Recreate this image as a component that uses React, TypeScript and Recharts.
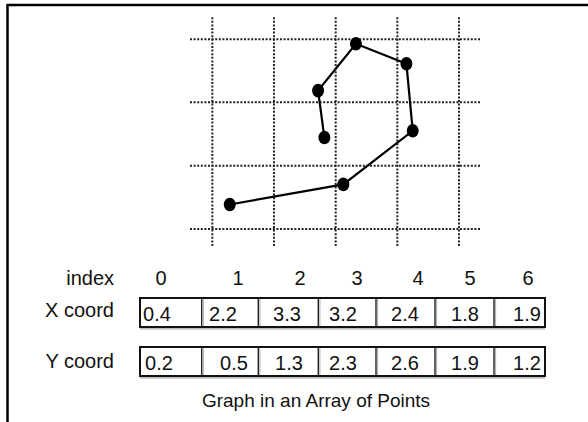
import React from "react";
import { ScatterChart, Scatter, XAxis, YAxis, ReferenceLine } from "recharts";

// point list, in array order (index 0..6)
const indices = [0, 1, 2, 3, 4, 5, 6];
const xCoords = [0.4, 2.2, 3.3, 3.2, 2.4, 1.8, 1.9];
const yCoords = [0.2, 0.5, 1.3, 2.3, 2.6, 1.9, 1.2];

// dotted background grid, in data units
const gridX = [0.124, 1.101, 2.079, 3.056, 4.033];
const gridY = [-0.166, 0.779, 1.725, 2.666];

const caption = "Graph in an Array of Points";

const points = indices.map((i) => ({ index: i, x: xCoords[i], y: yCoords[i] }));

// table layout
const cellEdges = [140, 201.7, 258.3, 318.3, 376, 435, 494, 545];
const indexTextX = [161, 238, 300, 357, 418, 470, 528];
const xRowTextX = [157, 223, 287, 343, 405, 465, 527];
const yRowTextX = [159, 234, 289, 343, 405, 465, 527];

const FONT = '"Liberation Sans", Arial, sans-serif';
const FS = 20;

const Dot = (props: any) => {
  const { cx, cy } = props;
  if (cx == null || cy == null) return null;
  return <ellipse cx={cx} cy={cy} rx={6} ry={6.8} fill="#000" />;
};

function TableRow({ top, bottom, values, textX, baseline }: {
  top: number;
  bottom: number;
  values: number[];
  textX: number[];
  baseline: number;
}) {
  const left = cellEdges[0];
  const right = cellEdges[cellEdges.length - 1];
  return (
    <g>
      <line x1={left} x2={right} y1={bottom + 1.8} y2={bottom + 1.8} stroke="#aaa" strokeWidth={1.2} />
      <rect x={left} y={top} width={right - left} height={bottom - top} fill="#fff" stroke="#111" strokeWidth={2} />
      {cellEdges.slice(1, -1).map((e, i) => (
        <g key={i}>
          <line x1={e} x2={e} y1={top} y2={bottom} stroke="#222" strokeWidth={1.4} />
          <line x1={e + 1.6} x2={e + 1.6} y1={top + 1} y2={bottom - 1} stroke="#aaa" strokeWidth={1} />
        </g>
      ))}
      {values.map((v, i) => (
        <text key={i} x={textX[i]} y={baseline} textAnchor="middle" fontFamily={FONT} fontSize={FS} fill="#111">
          {v.toFixed(1)}
        </text>
      ))}
    </g>
  );
}

export default function App() {
  return (
    <div style={{ position: "absolute", left: 0, top: 0, width: 588, height: 422, background: "#fff" }}>
      <svg width={588} height={422} style={{ position: "absolute", left: 0, top: 0 }}>
        {/* frame: top and left edge only */}
        <line x1={7} x2={588} y1={5} y2={5} stroke="#000" strokeWidth={2.5} />
        <line x1={7.5} x2={7.5} y1={4} y2={422} stroke="#000" strokeWidth={2.5} />

        <text x={114} y={285} textAnchor="end" fontFamily={FONT} fontSize={FS} fill="#111">index</text>
        {indices.map((i) => (
          <text key={i} x={indexTextX[i]} y={285} textAnchor="middle" fontFamily={FONT} fontSize={FS} fill="#111">
            {i}
          </text>
        ))}

        <text x={114} y={317} textAnchor="end" fontFamily={FONT} fontSize={FS} fill="#111">X coord</text>
        <TableRow top={298} bottom={327} values={xCoords} textX={xRowTextX} baseline={320.5} />

        <text x={114} y={368} textAnchor="end" fontFamily={FONT} fontSize={FS} fill="#111">Y coord</text>
        <TableRow top={347} bottom={376} values={yCoords} textX={yRowTextX} baseline={369.5} />

        <text x={316} y={407} textAnchor="middle" fontFamily={FONT} fontSize={19} fill="#111">{caption}</text>
      </svg>

      <div style={{ position: "absolute", left: 0, top: 0 }}>
        <ScatterChart width={588} height={422} margin={{ top: 16, right: 108, bottom: 176, left: 190 }}>
          <XAxis type="number" dataKey="x" domain={[-0.2298, 4.3661]} allowDataOverflow hide />
          <YAxis type="number" dataKey="y" domain={[-0.4194, 3.0134]} allowDataOverflow hide />
          {gridX.map((v) => (
            <ReferenceLine key={"gx" + v} x={v} stroke="#222" strokeWidth={2} strokeDasharray="2 1.6" />
          ))}
          {gridY.map((v) => (
            <ReferenceLine key={"gy" + v} y={v} stroke="#222" strokeWidth={2} strokeDasharray="2 1.6" />
          ))}
          <Scatter
            data={points}
            dataKey="y"
            line={{ stroke: "#000", strokeWidth: 2.2 }}
            lineType="joint"
            shape={Dot}
            isAnimationActive={false}
          />
        </ScatterChart>
      </div>
    </div>
  );
}
